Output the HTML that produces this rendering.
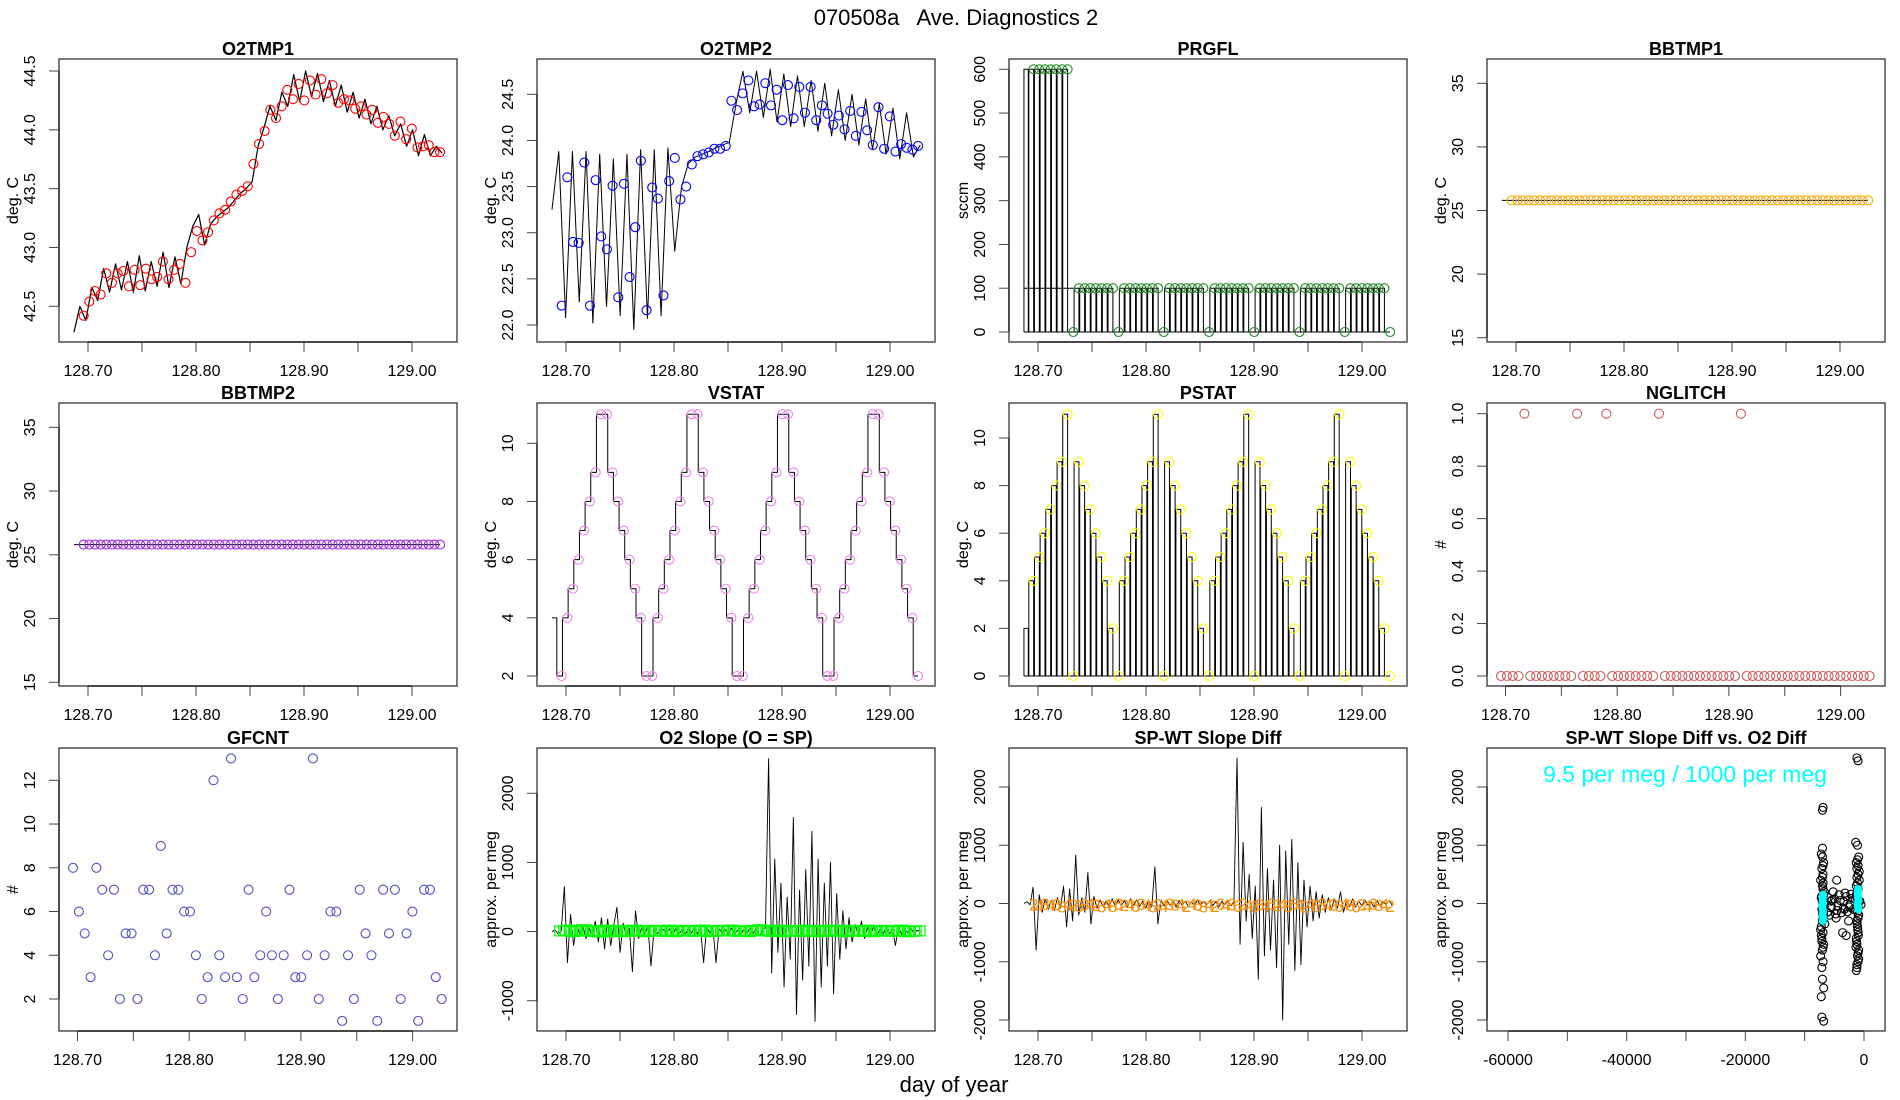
<!DOCTYPE html>
<html><head><meta charset="utf-8"><title>070508a Ave. Diagnostics 2</title>
<style>
html,body{margin:0;padding:0;background:#fff;}
svg{display:block;font-family:"Liberation Sans",Arial,sans-serif;}
</style></head>
<body>
<svg id="chart" xmlns="http://www.w3.org/2000/svg" width="1900" height="1100" viewBox="0 0 1900 1100">
<rect x="0" y="0" width="1900" height="1100" fill="#fff"/>
<text x="956" y="25" font-size="22" text-anchor="middle" xml:space="preserve">070508a   Ave. Diagnostics 2</text>
<text x="954" y="1092" font-size="22" text-anchor="middle">day of year</text>
</svg>
<script>
// ---------- data ----------
const nPts = 64;
const ptStart = 128.696, ptEnd = 129.026;
const lineStart = 128.687, lineEnd = 129.028;

const o2tmp1Pts = [42.42,42.54,42.63,42.60,42.78,42.70,42.78,42.80,42.67,42.81,42.68,42.82,42.73,42.75,42.88,42.73,42.81,42.86,42.70,42.96,43.14,43.06,43.13,43.23,43.29,43.32,43.39,43.45,43.48,43.52,43.71,43.88,43.99,44.17,44.10,44.20,44.34,44.26,44.39,44.25,44.42,44.30,44.43,44.31,44.38,44.23,44.26,44.25,44.18,44.20,44.13,44.17,44.06,44.11,44.05,43.95,44.07,43.92,44.01,43.85,43.86,43.87,43.81,43.81];
const o2tmp1Line = [42.28,42.5,42.38,42.66,42.55,42.82,42.62,42.86,42.64,42.88,42.62,42.93,42.63,42.88,42.67,42.96,42.66,42.92,42.69,43.0,43.18,43.28,43.02,43.2,43.26,43.3,43.34,43.4,43.46,43.5,43.56,43.86,44.02,44.2,44.08,44.32,44.2,44.47,44.24,44.5,44.28,44.48,44.24,44.42,44.2,44.38,44.15,44.32,44.1,44.26,44.05,44.2,44.0,44.12,43.95,44.05,43.86,44.0,43.78,43.96,43.78,43.86,43.8];
const o2tmp2Pts = [22.21,23.60,22.90,22.89,23.76,22.21,23.57,22.96,22.82,23.51,22.30,23.53,22.52,23.06,23.78,22.16,23.49,23.37,22.32,23.56,23.81,23.36,23.50,23.74,23.83,23.85,23.87,23.91,23.91,23.94,24.43,24.33,24.51,24.65,24.37,24.39,24.62,24.38,24.55,24.22,24.60,24.24,24.58,24.30,24.58,24.22,24.38,24.29,24.17,24.27,24.12,24.32,24.05,24.31,24.11,23.95,24.36,23.91,24.26,23.88,23.96,23.92,23.90,23.94];
const o2tmp2Line = [23.25,23.88,22.08,23.88,22.25,23.88,22.02,23.85,22.2,23.8,22.1,23.85,21.95,23.9,22.07,23.9,22.1,23.92,22.8,23.5,23.75,23.82,23.85,23.88,23.92,23.95,23.98,24.4,24.75,24.3,24.75,24.25,24.77,24.2,24.72,24.15,24.7,24.15,24.65,24.1,24.62,24.05,24.55,24.0,24.5,23.95,24.45,23.9,24.4,23.85,24.35,23.8,24.3,23.82,23.95];
const prgflPts = [600,600,600,600,600,600,600,0,100,100,100,100,100,100,100,0,100,100,100,100,100,100,100,0,100,100,100,100,100,100,100,0,100,100,100,100,100,100,100,0,100,100,100,100,100,100,100,0,100,100,100,100,100,100,100,0,100,100,100,100,100,100,100,0];
const bbtmp1Pts = [25.8,25.8,25.8,25.8,25.8,25.8,25.8,25.8,25.8,25.8,25.8,25.8,25.8,25.8,25.8,25.8,25.8,25.8,25.8,25.8,25.8,25.8,25.8,25.8,25.8,25.8,25.8,25.8,25.8,25.8,25.8,25.8,25.8,25.8,25.8,25.8,25.8,25.8,25.8,25.8,25.8,25.8,25.8,25.8,25.8,25.8,25.8,25.8,25.8,25.8,25.8,25.8,25.8,25.8,25.8,25.8,25.8,25.8,25.8,25.8,25.8,25.8,25.8,25.8];
const bbtmp2Pts = [25.8,25.8,25.8,25.8,25.8,25.8,25.8,25.8,25.8,25.8,25.8,25.8,25.8,25.8,25.8,25.8,25.8,25.8,25.8,25.8,25.8,25.8,25.8,25.8,25.8,25.8,25.8,25.8,25.8,25.8,25.8,25.8,25.8,25.8,25.8,25.8,25.8,25.8,25.8,25.8,25.8,25.8,25.8,25.8,25.8,25.8,25.8,25.8,25.8,25.8,25.8,25.8,25.8,25.8,25.8,25.8,25.8,25.8,25.8,25.8,25.8,25.8,25.8,25.8];
const vstatPts = [2,4,5,6,7,8,9,11,11,9,8,7,6,5,4,2,2,4,5,6,7,8,9,11,11,9,8,7,6,5,4,2,2,4,5,6,7,8,9,11,11,9,8,7,6,5,4,2,2,4,5,6,7,8,9,11,11,9,8,7,6,5,4,2];
const pstatPts = [4,5,6,7,8,9,11,0,9,8,7,6,5,4,2,0,4,5,6,7,8,9,11,0,9,8,7,6,5,4,2,0,4,5,6,7,8,9,11,0,9,8,7,6,5,4,2,0,4,5,6,7,8,9,11,0,9,8,7,6,5,4,2,0];
const nglitchPts = [0,0,0,0,1,0,0,0,0,0,0,0,0,1,0,0,0,0,1,0,0,0,0,0,0,0,0,1,0,0,0,0,0,0,0,0,0,0,0,0,0,1,0,0,0,0,0,0,0,0,0,0,0,0,0,0,0,0,0,0,0,0,0,0];
const gfcntPts = [8,6,5,3,8,7,4,7,2,5,5,2,7,7,4,9,5,7,7,6,6,4,2,3,12,4,3,13,3,2,7,3,4,6,4,2,4,7,3,3,4,13,2,4,6,6,1,4,2,7,5,4,1,7,5,7,2,5,6,1,7,7,3,2];
const o2slopeLine = [0,20,-30,10,650,-450,250,-200,100,-50,80,-100,60,-80,150,-150,200,-250,180,-200,100,350,-300,120,-80,50,-580,300,-100,60,-40,80,-500,40,-30,20,30,-20,40,-60,50,-30,20,-40,30,-20,50,-30,40,-450,80,-30,60,-450,40,-20,30,-40,50,-30,20,-40,30,-20,50,-30,40,-60,30,50,2500,-600,1050,-300,700,-800,500,-400,1650,-1200,600,-700,900,-500,1450,-1300,1050,-800,700,-500,1000,-900,550,-400,300,-250,200,-150,100,-80,150,-100,60,-50,80,-60,40,-40,60,-30,30,-200,80,-40,30,-20,50,-30,20,0];
const o2slopeSq = [10,20,0,15,25,5,10,-5,20,10,0,15,5,20,10,0,15,10,5,20,0,10,15,5,10,20,0,5,15,10,20,5,10,0,15,25,10,5,20,0,15,10,5,20,10,0,15,5,20,10,0,15,10,5,20,0,10,15,5,10,20,0,5,10];
const spwtLine = [0,30,-20,280,-800,150,-150,80,-100,60,-120,100,-80,300,-400,250,-300,830,-200,100,-150,530,-350,120,-80,60,-50,40,-60,80,-50,60,-40,50,-60,80,-40,60,-50,40,-80,50,-60,630,-350,60,-40,50,-30,40,-60,50,-30,40,-50,30,-40,60,-30,40,-30,50,-40,30,-60,40,-20,50,-40,30,2500,-700,1050,-300,500,-600,300,-1300,1650,-900,600,-800,400,-1100,1000,-2000,900,-700,1100,-1150,700,-1050,400,-400,300,-300,200,-250,150,-150,100,-100,80,-80,200,-150,60,-50,80,-60,40,-40,60,-30,30,-60,50,-40,30,-20,50,-30];
const spwtLabels = ["2","4","8","4","6","8","4","2","6","8","4","2","6","4","8","6","2","4","6","8","4","6","2","4","8","6","4","2","4","6","8","4","2","6","4","8","6","2","4","6","8","4","6","2","4","8","6","4","2","4","6","8","4","2","6","4","8","6","2","4","6","8","4","2"];
const spwtLabelVals = [-20,-40,-10,-30,-20,-50,-10,-30,-40,-20,-10,-30,-50,-20,-40,-10,-30,-20,-40,-10,-30,-50,-20,-40,-10,-30,-20,-40,-10,-30,-50,-20,-40,-10,-30,-20,-40,-10,-30,-50,-20,-40,-10,-30,-20,-40,-10,-30,-50,-20,-40,-10,-30,-20,-40,-10,-30,-50,-20,-40,-10,-30,-20,-40];
const scatterX = [-7000,-7200,-6800,-7100,-6900,-7300,-7000,-6700,-7200,-6900,-7100,-6800,-7000,-7200,-6900,-7100,-6800,-7000,-7300,-6900,-7100,-7000,-6800,-7200,-6900,-7000,-7100,-6800,-7000,-6900,-7000,-6900,-6800,-7000,-6700,-6800,-6900,-6600,-7300,-7200,-7100,-6900,-6950,-7050,-6850,-7150,-7000,-6900,
 -1200,-1000,-1400,-1100,-900,-1300,-1200,-1000,-800,-1300,-1100,-1200,-1000,-1400,-900,-1200,-1100,-1000,-1300,-1200,-900,-1100,-1000,-1200,-1300,-1100,-1000,-800,-1200,-1100,-1000,-1300,-900,-1200,-1100,-1000,-1150,-1050,-950,-1250,-1350,-1000,-900,-1200,-1000,-700,-500,-1500,
 -6000,-5500,-5000,-4500,-4000,-3500,-3000,-2500,-2000,-1800,-5800,-5200,-4800,-4200,-3800,-3200,-2800,-2200,-6200,-4600,-3600,-2600,-5400,-4400,-3400,-2400,-5600,-3000,-4700,-3300];
const scatterY = [950,850,700,600,500,400,300,200,100,0,-100,-200,-300,-400,-500,-600,-700,-800,-900,-1000,-1100,-1300,-1450,-1600,1650,1600,-1950,-2020,800,650,450,250,150,50,-50,-150,-250,-350,-450,-550,-650,-750,-80,60,-30,120,-180,350,
 2500,2450,1050,1000,800,700,600,500,400,300,200,100,0,-100,-200,-300,-400,-500,-600,-700,-800,-900,-1000,-1100,-1150,750,650,550,450,350,250,150,50,-50,-150,-250,-350,-450,-550,-650,-750,-850,-950,-1050,-60,40,-20,80,
 100,-50,80,-120,50,-80,120,-60,90,-100,-200,200,-180,150,-160,180,-140,160,-150,400,-500,-300,60,-40,30,-20,40,-550,-250,-100];
const cyanX = [-6900,-7000,-6950,-6900,-7050,-6950,-6900,-7000,-6850,-6950,-1000,-950,-1050,-1000,-900,-1100,-1000,-950,-1050,-1000];
const cyanY = [150,100,50,0,-50,-100,-150,-200,-250,-300,250,200,150,100,50,0,-50,-100,200,-60];

// ---------- helpers ----------
const NS = 'http://www.w3.org/2000/svg';
const svg = document.getElementById('chart');
function mk(tag, attrs, parent) {
  const e = document.createElementNS(NS, tag);
  for (const k in attrs) e.setAttribute(k, attrs[k]);
  (parent || svg).appendChild(e);
  return e;
}
function seq(a, b, n) { const r = []; for (let i = 0; i < n; i++) r.push(a + (b - a) * i / (n - 1)); return r; }
const ptTimes = seq(ptStart, ptEnd, nPts);

const colLeft = [59, 537, 1009, 1487];
const rowTop = [59, 403, 748];
const boxW = 398, boxH = 283;

function makePanel(col, row, cfg) {
  const L = colLeft[col], T = rowTop[row], B = T + boxH, R = L + boxW;
  const g = mk('g', {});
  
  
  let x;
  if (cfg.xmode === 'scatter') x = v => 1864 + v * (356 / 60000);
  else if (cfg.xmode === 'pts') x = v => L + 18.5 + (v - 128.70) * 1117;
  else x = v => L + 29 + (v - 128.70) * 1080;
  const [v1, p1, v2, p2] = cfg.yref;
  const y = v => p1 + (v - v1) * (p2 - p1) / (v2 - v1);
  const clipId = 'clip-' + cfg.name;
  const cp = mk('clipPath', { id: clipId }, g);
  mk('rect', { x: L, y: T, width: boxW, height: boxH }, cp);
  const frame = mk('rect', { x: L, y: T, width: boxW, height: boxH, fill: 'none', stroke: '#333', 'stroke-width': 1.3 }, g);
  
  
  const title = mk('text', { x: (L + R) / 2, y: T - 4, 'font-size': 18, 'font-weight': 'bold', 'text-anchor': 'middle' }, g);
  title.textContent = cfg.title;
  
  
  const yl = mk('text', { x: L - 41, y: (T + B) / 2, 'font-size': 16, 'text-anchor': 'middle', transform: `rotate(-90 ${L - 41} ${(T + B) / 2})` }, g);
  yl.textContent = cfg.ylab;
  
  
  let xt = [], xlab;
  if (cfg.xmode === 'scatter') { xt = [-60000, -50000, -40000, -30000, -20000, -10000, 0]; xlab = v => (v % 20000 === 0) ? String(v) : null; }
  else { xt = [128.70, 128.75, 128.80, 128.85, 128.90, 128.95, 129.00]; xlab = v => (Math.round(v * 100) % 10 === 0) ? v.toFixed(2) : null; }
  const xa = mk('line', { x1: x(xt[0]), x2: x(xt[xt.length - 1]), y1: B, y2: B, stroke: '#000', 'stroke-width': 1.2 }, g);
  
  
  xt.forEach(v => {
    const tk = mk('line', { x1: x(v), x2: x(v), y1: B, y2: B + 10, stroke: '#444', 'stroke-width': 1 }, g);
    
    
    const s = xlab(v);
    if (s !== null) {
      const t = mk('text', { x: x(v), y: B + 34, 'font-size': 16, 'text-anchor': 'middle' }, g);
      t.textContent = s;
      
      
    }
  });
  const ya = mk('line', { x1: L, x2: L, y1: y(cfg.yticks[0]), y2: y(cfg.yticks[cfg.yticks.length - 1]), stroke: '#000', 'stroke-width': 1.2 }, g);
  
  
  cfg.yticks.forEach(v => {
    const tk = mk('line', { x1: L - 10, x2: L, y1: y(v), y2: y(v), stroke: '#444', 'stroke-width': 1 }, g);
    
    
    const t = mk('text', { x: L - 24, y: y(v), 'font-size': 16, 'text-anchor': 'middle', transform: `rotate(-90 ${L - 24} ${y(v)})` }, g);
    t.textContent = cfg.yfmt ? cfg.yfmt(v) : String(v);
    
    
  });
  const plot = mk('g', { 'clip-path': `url(#${clipId})` }, g);
  
  
  return { x, y, g: plot, L, T, B, R };
}
function polyline(p, xs, ys, name, color, w) {
  const d = xs.map((v, i) => (i ? 'L' : 'M') + p.x(v).toFixed(2) + ' ' + p.y(ys[i]).toFixed(2)).join('');
  const e = mk('path', { d, fill: 'none', stroke: color || '#000', 'stroke-width': w || 1, 'stroke-linejoin': 'round' }, p.g);
  
  
  return e;
}
function circles(p, xs, ys, name, color, r) {
  xs.forEach((v, i) => {
    const c = mk('circle', { cx: p.x(v), cy: p.y(ys[i]), r: r || 4.5, fill: 'none', stroke: color, 'stroke-width': 1.1 }, p.g);
    
    
  });
}
function bars(p, xs, ys, name, prefix, w) {
  let d = `M${p.x(lineStart)} ${p.y(0)}V${p.y(prefix)}H${p.x(lineStart + 0.004)}V${p.y(0)}`;
  xs.forEach((v, i) => {
    if (ys[i] === 0) return;
    d += `M${p.x(v - w)} ${p.y(0)}V${p.y(ys[i])}H${p.x(v)}V${p.y(0)}`;
  });
  d += `M${p.x(lineStart)} ${p.y(0)}H${p.x(ptEnd)}`;
  const e = mk('path', { d, fill: 'none', stroke: '#000', 'stroke-width': 1 }, p.g);
  
  
}

// ---------- panels ----------
let p = makePanel(0, 0, { name: 'o2tmp1', title: 'O2TMP1', ylab: 'deg. C', yref: [44.5, 71, 42.5, 306.3], yticks: [42.5, 43.0, 43.5, 44.0, 44.5], yfmt: v => v.toFixed(1) });
polyline(p, seq(lineStart, lineEnd, o2tmp1Line.length), o2tmp1Line, 'o2tmp1-line', '#000', 1.2);
circles(p, ptTimes, o2tmp1Pts, 'o2tmp1-point', '#ff0000');

p = makePanel(1, 0, { name: 'o2tmp2', title: 'O2TMP2', ylab: 'deg. C', yref: [24.5, 94.3, 22.0, 325], yticks: [22.0, 22.5, 23.0, 23.5, 24.0, 24.5], yfmt: v => v.toFixed(1) });
polyline(p, seq(lineStart, lineEnd, o2tmp2Line.length), o2tmp2Line, 'o2tmp2-line', '#000', 1);
circles(p, ptTimes, o2tmp2Pts, 'o2tmp2-point', '#0000ff');

p = makePanel(2, 0, { name: 'prgfl', title: 'PRGFL', ylab: 'sccm', yref: [600, 69.3, 0, 332], yticks: [0, 100, 200, 300, 400, 500, 600] });
bars(p, ptTimes, prgflPts, 'prgfl-bars', 600, 0.0045);
polyline(p, [lineStart, ptTimes[7]], [100, 100], 'prgfl-100-line', '#000', 1);
circles(p, ptTimes, prgflPts, 'prgfl-point', '#228b22');

p = makePanel(3, 0, { name: 'bbtmp1', title: 'BBTMP1', ylab: 'deg. C', yref: [35, 83.3, 15, 337.7], yticks: [15, 20, 25, 30, 35] });
polyline(p, [lineStart].concat(ptTimes), [bbtmp1Pts[0]].concat(bbtmp1Pts), 'bbtmp1-line', '#000', 1);
circles(p, ptTimes, bbtmp1Pts, 'bbtmp1-point', '#ffa500');

p = makePanel(0, 1, { name: 'bbtmp2', title: 'BBTMP2', ylab: 'deg. C', yref: [35, 427.3, 15, 682.3], yticks: [15, 20, 25, 30, 35] });
polyline(p, [lineStart].concat(ptTimes), [bbtmp2Pts[0]].concat(bbtmp2Pts), 'bbtmp2-line', '#000', 1);
circles(p, ptTimes, bbtmp2Pts, 'bbtmp2-point', '#a020f0');

p = makePanel(1, 1, { name: 'vstat', title: 'VSTAT', ylab: 'deg. C', yref: [10, 443.3, 2, 676], yticks: [2, 4, 6, 8, 10] });
(function () {
  const xs = [lineStart], ys = [4];
  let prev = 4;
  ptTimes.forEach((t, i) => { xs.push(t - 0.0045, t - 0.0045); ys.push(prev, vstatPts[i]); prev = vstatPts[i]; });
  xs.push(ptEnd); ys.push(prev);
  polyline(p, xs, ys, 'vstat-step-line', '#000', 1);
})();
circles(p, ptTimes, vstatPts, 'vstat-point', '#ee82ee');

p = makePanel(2, 1, { name: 'pstat', title: 'PSTAT', ylab: 'deg. C', yref: [10, 438, 0, 676], yticks: [0, 2, 4, 6, 8, 10] });
bars(p, ptTimes, pstatPts, 'pstat-bars', 2, 0.0045);
circles(p, ptTimes, pstatPts, 'pstat-point', '#ffff00');

p = makePanel(3, 1, { name: 'nglitch', title: 'NGLITCH', ylab: '#', xmode: 'pts', yref: [1, 413.7, 0, 676], yticks: [0, 0.2, 0.4, 0.6, 0.8, 1.0], yfmt: v => v.toFixed(1) });
circles(p, ptTimes, nglitchPts, 'nglitch-point', '#cd5c5c');

p = makePanel(0, 2, { name: 'gfcnt', title: 'GFCNT', ylab: '#', xmode: 'pts', yref: [12, 780.3, 2, 999], yticks: [2, 4, 6, 8, 10, 12] });
circles(p, ptTimes, gfcntPts, 'gfcnt-point', '#5050c8');

p = makePanel(1, 2, { name: 'o2-slope', title: 'O2 Slope (O = SP)', ylab: 'approx. per meg', yref: [2000, 793.3, -1000, 1000.7], yticks: [-1000, 0, 1000, 2000] });
polyline(p, seq(lineStart, lineEnd, o2slopeLine.length), o2slopeLine, 'o2-slope-line', '#000', 0.9);
ptTimes.forEach((t, i) => {
  [-0.0018, 0.0018].forEach(off => {
    const s = mk('rect', { x: p.x(t + off) - 5, y: p.y(o2slopeSq[i]) - 5, width: 10, height: 10, fill: 'none', stroke: '#00ff00', 'stroke-width': 1.2 }, p.g);
    
    
  });
});

p = makePanel(2, 2, { name: 'spwt-slope', title: 'SP-WT Slope Diff', ylab: 'approx. per meg', yref: [2000, 787, -2000, 1020], yticks: [-2000, -1000, 0, 1000, 2000] });
polyline(p, seq(lineStart, lineEnd, spwtLine.length), spwtLine, 'spwt-slope-line', '#000', 0.9);
ptTimes.forEach((t, i) => {
  const tx = mk('text', { x: p.x(t), y: p.y(spwtLabelVals[i]) + 6, 'font-size': 17, fill: '#ff8c00', 'text-anchor': 'middle' }, p.g);
  tx.textContent = spwtLabels[i];
  
  
});

p = makePanel(3, 2, { name: 'spwt-vs-o2', title: 'SP-WT Slope Diff vs. O2 Diff', ylab: 'approx. per meg', xmode: 'scatter', yref: [2000, 787, -2000, 1020], yticks: [-2000, -1000, 0, 1000, 2000] });
circles(p, scatterX, scatterY, 'scatter-point', '#000', 4);
cyanX.forEach((v, i) => {
  const c = mk('circle', { cx: p.x(v), cy: p.y(cyanY[i]), r: 4, fill: '#00ffff' }, p.g);
  
  
});
const ann = mk('text', { x: 1685, y: 782, 'font-size': 23, fill: '#00ffff', 'text-anchor': 'middle' }, p.g);
ann.textContent = '9.5 per meg / 1000 per meg';


</script>
</body></html>
